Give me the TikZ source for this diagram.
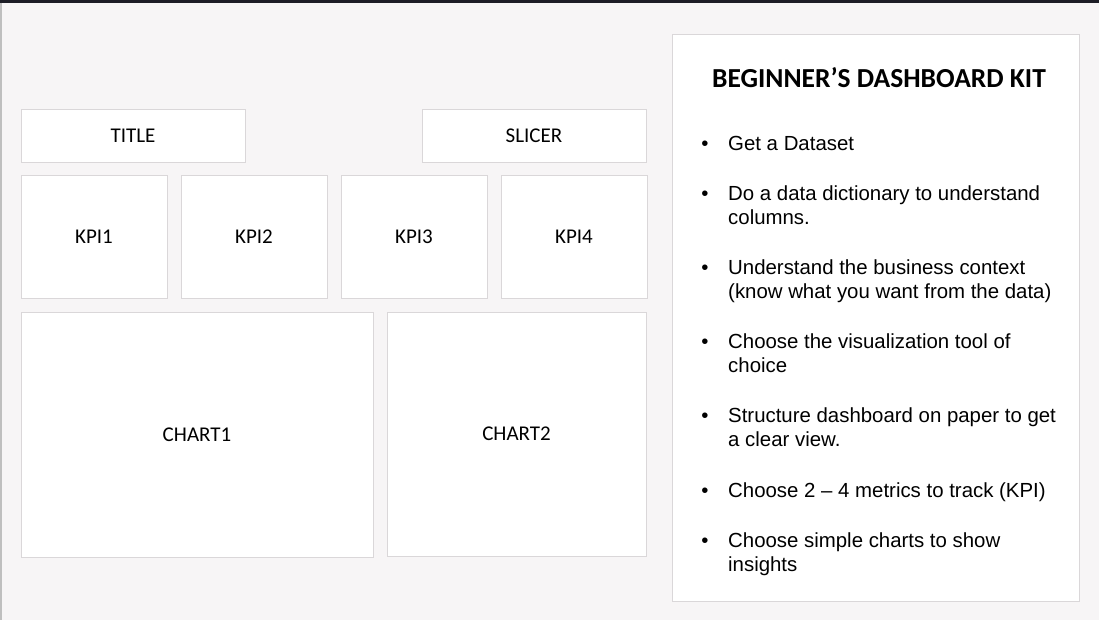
\documentclass[tikz,border=0pt]{standalone}
\usepackage{fontspec}
\setmainfont{Liberation Sans}
\newfontfamily\calibrifont{Carlito}
\definecolor{pagebg}{HTML}{F7F5F6}
\definecolor{boxline}{HTML}{DAD7D9}
\definecolor{topbar}{HTML}{1D1D26}
\begin{document}
\begin{tikzpicture}
    [x=1pt, y=-1pt,
     panel/.style={draw=boxline, line width=1pt, fill=white, inner sep=0pt,
       font=\calibrifont\fontsize{21}{25}\selectfont},
     tip/.style={anchor=base west, align=left, inner sep=0pt,
       font=\fontsize{20.4}{24.5}\selectfont},
     dot/.style={anchor=base, inner sep=0pt, font=\fontsize{20.4}{24.5}\selectfont}]
    % page
    \fill[pagebg] (0,0) rectangle (1099,620);
    \fill[topbar] (0,0) rectangle (1099,3);
    \draw[gray!50, line width=1.5pt] (0.75,3) -- (0.75,620);
    \useasboundingbox (0,0) rectangle (1099,620);

    % dashboard mock-up
    \node[panel, minimum width=224pt, minimum height=53pt] (title) at (133,135.5) {TITLE};
    \node[panel, minimum width=224pt, minimum height=53pt] (slicer) at (534,135.5) {SLICER};
    \foreach \k/\cx in {1/94,2/254,3/414,4/574}
      \node[panel, minimum width=146pt, minimum height=123pt] (kpi\k) at (\cx,236.5) {KPI\k};
    \node[panel, minimum width=352pt, minimum height=245pt] (chart1) at (197,434.5) {CHART1};
    \node[panel, minimum width=259pt, minimum height=244pt] (chart2) at (516.5,434) {CHART2};

    % kit
    \node[panel, minimum width=407pt, minimum height=566pt] (kit) at (875.5,318) {};
    \node[anchor=base, inner sep=0pt, font=\calibrifont\bfseries\fontsize{27.5}{32}\selectfont]
      (kittitle) at (879,87) {BEGINNER’S DASHBOARD KIT};
    % base anchor sits on the last line, so shift by the extra lines
    \foreach \y/\n/\txt [count=\i] in {150/1/{Get a Dataset},
        200/2/{Do a data dictionary to understand\\columns.},
        274/2/{Understand the business context\\(know what you want from the data)},
        348/2/{Choose the visualization tool of\\choice},
        422/2/{Structure dashboard on paper to get\\a clear view.},
        497/1/{Choose 2 – 4 metrics to track (KPI)},
        547/2/{Choose simple charts to show\\insights}}
    {
      \node[dot] (dot\i) at (705,\y) {•};
      \node[tip] (tip\i) at (728,{\y+24.5*(\n-1)}) {\txt};
    }
\end{tikzpicture}
\end{document}
